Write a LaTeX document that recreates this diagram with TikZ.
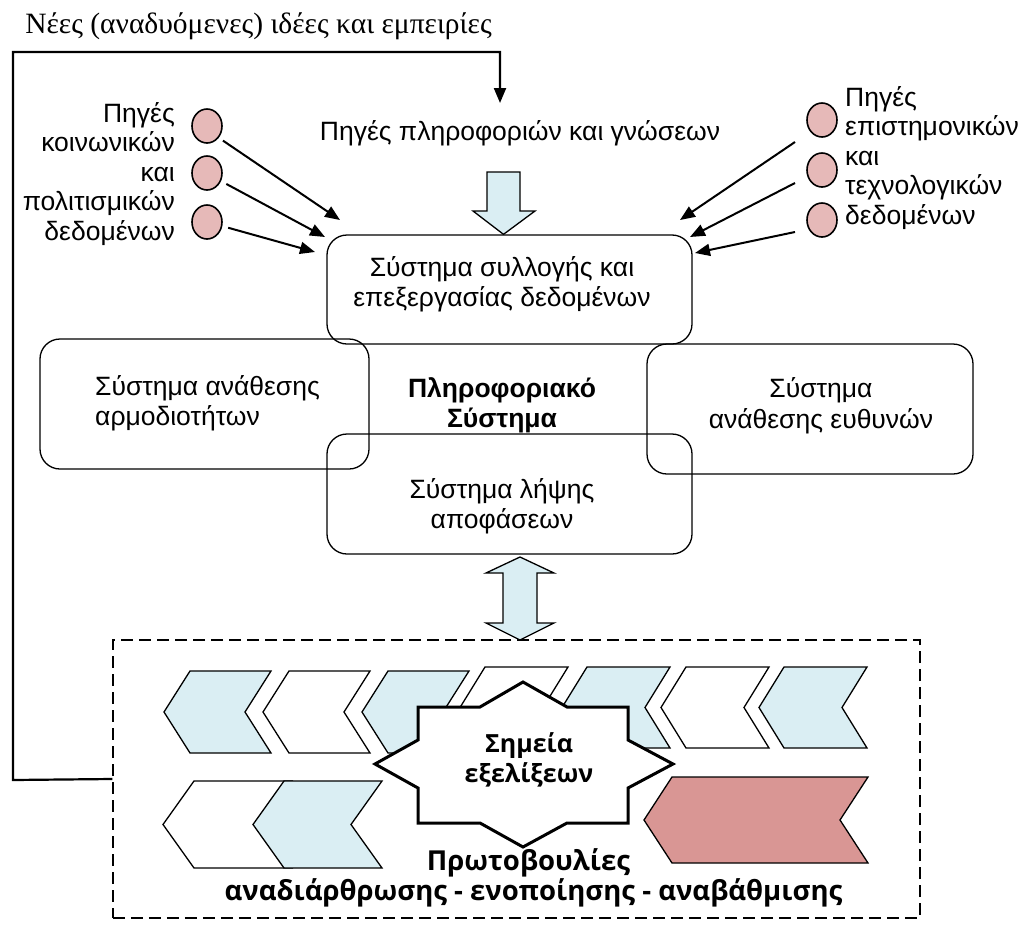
\documentclass[tikz,border=0pt]{standalone}
\usepackage{fontspec}
\setmainfont{Liberation Sans}
\newfontfamily\timesgr{Liberation Serif}
\newfontfamily\opensans{Open Sans}
\usetikzlibrary{arrows.meta,shapes.geometric}
\definecolor{paleblue}{HTML}{DAEEF3}
\definecolor{dotpink}{HTML}{E6B9B8}
\definecolor{rosefill}{HTML}{D99694}

% chevron pointing left: fill, left tip x, top y, bottom y, width, tip depth
\newcommand{\chevshape}[6]{%
  \filldraw[chev, fill=#1] (#2,{(#3+#4)/2}) -- ({#2+#6},#3) -- ({#2+#5},#3)
    -- ({#2+#5-#6},{(#3+#4)/2}) -- ({#2+#5},#4) -- ({#2+#6},#4) -- cycle;}

\begin{document}
\begin{tikzpicture}[x=1bp,y=-1bp,
  every node/.style={font=\fontsize{26.5bp}{29.5bp}\selectfont, inner sep=0pt},
  sysbox/.style={draw, line width=1.3bp, rounded corners=20bp},
  src/.style={draw, ellipse, line width=1.6bp, fill=dotpink, minimum width=30bp, minimum height=34bp},
  feed/.style={-{Triangle[length=15bp,width=12bp]}, line width=2bp},
  loopline/.style={-{Triangle[length=15bp,width=12bp]}, line width=2.2bp},
  blockarrow/.style={draw, fill=paleblue, line width=1.3bp, line join=miter},
  chev/.style={draw, line width=1.3bp, line join=miter},
  boldtxt/.style={font=\opensans\bfseries\fontsize{25bp}{30bp}\selectfont},
  bigbold/.style={font=\opensans\bfseries\fontsize{27.5bp}{30bp}\selectfont},
]
\useasboundingbox (0,0) rectangle (1025,929);

% heading of the feedback loop
\node[font=\timesgr\fontsize{29.5bp}{32bp}\selectfont, anchor=base] (ideas) at (258.5,33) {Νέες (αναδυόμενες) ιδέες και εμπειρίες};

% sources of information
\node[anchor=base] (info) at (520,140) {Πηγές πληροφοριών και γνώσεων};

\node[align=right, anchor=east] (leftlbl) at (175,174) {Πηγές\\κοινωνικών\\και\\πολιτισμικών\\δεδομένων};
\node[align=left, anchor=west] (rightlbl) at (845,158) {Πηγές\\επιστημονικών\\και\\τεχνολογικών\\δεδομένων};

\node[src] (lc1) at (207,126) {};
\node[src] (lc2) at (207,173) {};
\node[src] (lc3) at (207,222) {};
\node[src] (rc1) at (822,120) {};
\node[src] (rc2) at (822,170) {};
\node[src] (rc3) at (822,220) {};

% subsystem boxes
\node[sysbox, minimum width=365bp, minimum height=109bp] (collect) at (509.5,289.5) {};
\node[sysbox, minimum width=329bp, minimum height=130bp] (assign) at (204.5,404) {};
\node[sysbox, minimum width=326bp, minimum height=130bp] (resp) at (810,409) {};
\node[sysbox, minimum width=365bp, minimum height=120bp] (decide) at (509.5,494) {};

\node[align=center, font=\fontsize{26.5bp}{30bp}\selectfont] (collecttxt) at (502,284) {Σύστημα συλλογής και\\επεξεργασίας δεδομένων};
\node[align=left, anchor=west, font=\fontsize{26.5bp}{30bp}\selectfont] (assigntxt) at (95,403) {Σύστημα ανάθεσης\\αρμοδιοτήτων};
\node[align=center, font=\fontsize{26.5bp}{31bp}\selectfont] (resptxt) at (821,406) {Σύστημα\\ανάθεσης ευθυνών};
\node[align=center, font=\fontsize{26.5bp}{30bp}\selectfont] (decidetxt) at (502,506) {Σύστημα λήψης\\αποφάσεων};
\node[align=center, font=\bfseries\fontsize{26.5bp}{30bp}\selectfont] (istxt) at (502,405) {Πληροφοριακό\\Σύστημα};

% arrows from the data sources
\coordinate (lt1) at (340,220);
\coordinate (lt2) at (325,237);
\coordinate (lt3) at (315,252);
\coordinate (rs1) at (795,142);
\coordinate (rs2) at (795,183);
\coordinate (rs3) at (795,232);
\coordinate (rt1) at (680,220);
\coordinate (rt2) at (690,237);
\coordinate (rt3) at (695,253);
\draw[feed, shorten <=5bp] (lc1.-45) -- (lt1);
\draw[feed, shorten <=6bp] (lc2.-30) -- (lt2);
\draw[feed, shorten <=6bp] (lc3.-15) -- (lt3);
\draw[feed] (rs1) -- (rt1);
\draw[feed] (rs2) -- (rt2);
\draw[feed] (rs3) -- (rt3);

% block arrow into the collection system
\coordinate (downx) at (503.5,0);
\filldraw[blockarrow] (487,172) -- (520,172) -- (520,211) -- (535,211) -- (collect.north -| downx)
  -- (473,211) -- (487,211) -- cycle;

% initiatives area
\node[draw, dashed, dash pattern=on 12bp off 6bp, line width=1.4bp, minimum width=807bp, minimum height=278bp] (init) at (516.5,779) {};

% two-way block arrow
\filldraw[blockarrow] (520,557) -- (554,573) -- (537,573) -- (537,623) -- (554,623) -- (520,640)
  -- (486,623) -- (503,623) -- (503,573) -- (486,573) -- cycle;

% chevrons, upper row
\chevshape{paleblue}{164}{671}{753}{107}{26}
\chevshape{white}{263}{671}{753}{107}{26}
\chevshape{paleblue}{362}{671}{753}{107}{26}
\chevshape{white}{460}{667}{748}{108}{25}
\chevshape{paleblue}{562}{667}{748}{108}{25}
\chevshape{white}{661}{667}{748}{108}{25}
\chevshape{paleblue}{759}{667}{748}{108}{25}
% chevrons, lower row
\chevshape{white}{163}{781}{868}{129}{31}
\chevshape{paleblue}{253}{781}{868}{129}{31}
\chevshape{rosefill}{644}{777}{863}{224}{28}

% star with the evolution points
\filldraw[fill=white, line width=3bp, line join=miter] (418,707) -- (480,707) -- (523,682) -- (567,707)
  -- (628,707) -- (628,740) -- (673,764) -- (628,788) -- (628,823) -- (567,823) -- (523,847)
  -- (480,823) -- (418,823) -- (418,788) -- (375,764) -- (418,740) -- cycle;
\node[boldtxt, align=center] (points) at (529,760) {Σημεία\\εξελίξεων};

\node[bigbold, anchor=base] (initl1) at (528.5,870) {Πρωτοβουλίες};
\node[bigbold, anchor=base] (initl2) at (533.5,900) {αναδιάρθρωσης - ενοποίησης - αναβάθμισης};

% feedback loop
\coordinate (fbtip) at (500,103);
\draw[loopline] (init.west) -- (13,780) -- (13,52) -- (500,52) -- (fbtip);
\end{tikzpicture}
\end{document}
